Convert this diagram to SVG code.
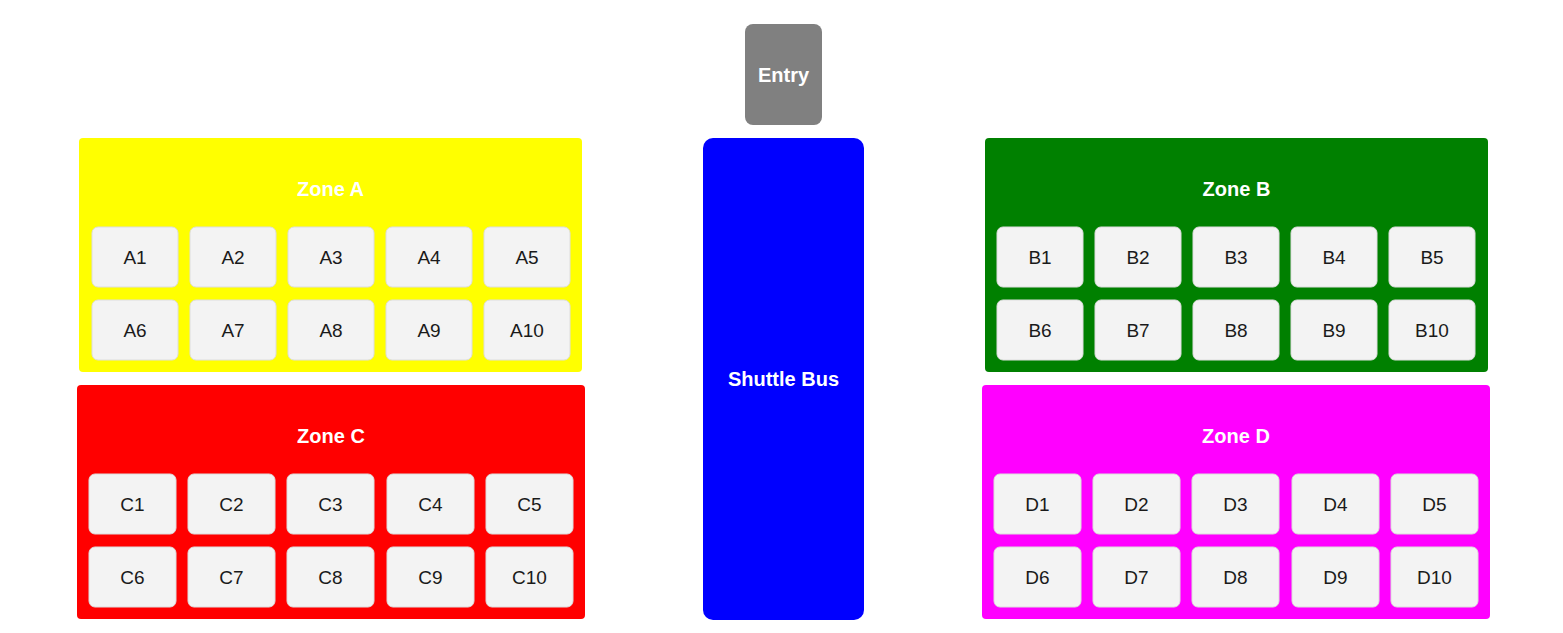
<svg xmlns="http://www.w3.org/2000/svg" width="1563" height="633" viewBox="0 0 1563 633">
<style>
.zone{stroke:none}
.title{font-family:"Liberation Sans",Arial,sans-serif;font-weight:bold;font-size:20px;fill:#ffffff;text-anchor:middle;dominant-baseline:central}
.cell{fill:#f3f3f3;stroke:#dddddd;stroke-width:1}
.lbl{font-family:"Liberation Sans",Arial,sans-serif;font-size:19px;fill:#1a1a1a;text-anchor:middle;dominant-baseline:central}
</style>
<rect width="1563" height="633" fill="#ffffff"/>
<g id="entry">
<rect x="745" y="24" width="77" height="101" rx="8" fill="#808080"/>
<text class="title" x="783.5" y="74.5">Entry</text>
</g>
<g id="shuttle-bus">
<rect x="703" y="138" width="161" height="482" rx="10" fill="#0000ff"/>
<text class="title" x="783.5" y="378.5">Shuttle Bus</text>
</g>
<g id="zone-a">
<rect x="79" y="138" width="503" height="234" rx="4" fill="#ffff00"/>
<text class="title" x="330.5" y="188.5">Zone A</text>
<rect class="cell" x="92" y="227" width="86" height="60" rx="6"/><text class="lbl" x="135" y="257">A1</text>
<rect class="cell" x="190" y="227" width="86" height="60" rx="6"/><text class="lbl" x="233" y="257">A2</text>
<rect class="cell" x="288" y="227" width="86" height="60" rx="6"/><text class="lbl" x="331" y="257">A3</text>
<rect class="cell" x="386" y="227" width="86" height="60" rx="6"/><text class="lbl" x="429" y="257">A4</text>
<rect class="cell" x="484" y="227" width="86" height="60" rx="6"/><text class="lbl" x="527" y="257">A5</text>
<rect class="cell" x="92" y="300" width="86" height="60" rx="6"/><text class="lbl" x="135" y="330">A6</text>
<rect class="cell" x="190" y="300" width="86" height="60" rx="6"/><text class="lbl" x="233" y="330">A7</text>
<rect class="cell" x="288" y="300" width="86" height="60" rx="6"/><text class="lbl" x="331" y="330">A8</text>
<rect class="cell" x="386" y="300" width="86" height="60" rx="6"/><text class="lbl" x="429" y="330">A9</text>
<rect class="cell" x="484" y="300" width="86" height="60" rx="6"/><text class="lbl" x="527" y="330">A10</text>
</g>
<g id="zone-b">
<rect x="985" y="138" width="503" height="234" rx="4" fill="#008000"/>
<text class="title" x="1236.5" y="188.5">Zone B</text>
<rect class="cell" x="997" y="227" width="86" height="60" rx="6"/><text class="lbl" x="1040" y="257">B1</text>
<rect class="cell" x="1095" y="227" width="86" height="60" rx="6"/><text class="lbl" x="1138" y="257">B2</text>
<rect class="cell" x="1193" y="227" width="86" height="60" rx="6"/><text class="lbl" x="1236" y="257">B3</text>
<rect class="cell" x="1291" y="227" width="86" height="60" rx="6"/><text class="lbl" x="1334" y="257">B4</text>
<rect class="cell" x="1389" y="227" width="86" height="60" rx="6"/><text class="lbl" x="1432" y="257">B5</text>
<rect class="cell" x="997" y="300" width="86" height="60" rx="6"/><text class="lbl" x="1040" y="330">B6</text>
<rect class="cell" x="1095" y="300" width="86" height="60" rx="6"/><text class="lbl" x="1138" y="330">B7</text>
<rect class="cell" x="1193" y="300" width="86" height="60" rx="6"/><text class="lbl" x="1236" y="330">B8</text>
<rect class="cell" x="1291" y="300" width="86" height="60" rx="6"/><text class="lbl" x="1334" y="330">B9</text>
<rect class="cell" x="1389" y="300" width="86" height="60" rx="6"/><text class="lbl" x="1432" y="330">B10</text>
</g>
<g id="zone-c">
<rect x="77" y="385" width="508" height="234" rx="4" fill="#ff0000"/>
<text class="title" x="331" y="435.5">Zone C</text>
<rect class="cell" x="89" y="474" width="87" height="60" rx="6"/><text class="lbl" x="132.5" y="504">C1</text>
<rect class="cell" x="188" y="474" width="87" height="60" rx="6"/><text class="lbl" x="231.5" y="504">C2</text>
<rect class="cell" x="287" y="474" width="87" height="60" rx="6"/><text class="lbl" x="330.5" y="504">C3</text>
<rect class="cell" x="387" y="474" width="87" height="60" rx="6"/><text class="lbl" x="430.5" y="504">C4</text>
<rect class="cell" x="486" y="474" width="87" height="60" rx="6"/><text class="lbl" x="529.5" y="504">C5</text>
<rect class="cell" x="89" y="547" width="87" height="60" rx="6"/><text class="lbl" x="132.5" y="577">C6</text>
<rect class="cell" x="188" y="547" width="87" height="60" rx="6"/><text class="lbl" x="231.5" y="577">C7</text>
<rect class="cell" x="287" y="547" width="87" height="60" rx="6"/><text class="lbl" x="330.5" y="577">C8</text>
<rect class="cell" x="387" y="547" width="87" height="60" rx="6"/><text class="lbl" x="430.5" y="577">C9</text>
<rect class="cell" x="486" y="547" width="87" height="60" rx="6"/><text class="lbl" x="529.5" y="577">C10</text>
</g>
<g id="zone-d">
<rect x="982" y="385" width="508" height="234" rx="4" fill="#ff00ff"/>
<text class="title" x="1236" y="435.5">Zone D</text>
<rect class="cell" x="994" y="474" width="87" height="60" rx="6"/><text class="lbl" x="1037.5" y="504">D1</text>
<rect class="cell" x="1093" y="474" width="87" height="60" rx="6"/><text class="lbl" x="1136.5" y="504">D2</text>
<rect class="cell" x="1192" y="474" width="87" height="60" rx="6"/><text class="lbl" x="1235.5" y="504">D3</text>
<rect class="cell" x="1292" y="474" width="87" height="60" rx="6"/><text class="lbl" x="1335.5" y="504">D4</text>
<rect class="cell" x="1391" y="474" width="87" height="60" rx="6"/><text class="lbl" x="1434.5" y="504">D5</text>
<rect class="cell" x="994" y="547" width="87" height="60" rx="6"/><text class="lbl" x="1037.5" y="577">D6</text>
<rect class="cell" x="1093" y="547" width="87" height="60" rx="6"/><text class="lbl" x="1136.5" y="577">D7</text>
<rect class="cell" x="1192" y="547" width="87" height="60" rx="6"/><text class="lbl" x="1235.5" y="577">D8</text>
<rect class="cell" x="1292" y="547" width="87" height="60" rx="6"/><text class="lbl" x="1335.5" y="577">D9</text>
<rect class="cell" x="1391" y="547" width="87" height="60" rx="6"/><text class="lbl" x="1434.5" y="577">D10</text>
</g>
<g id="connectors"></g>
</svg>
